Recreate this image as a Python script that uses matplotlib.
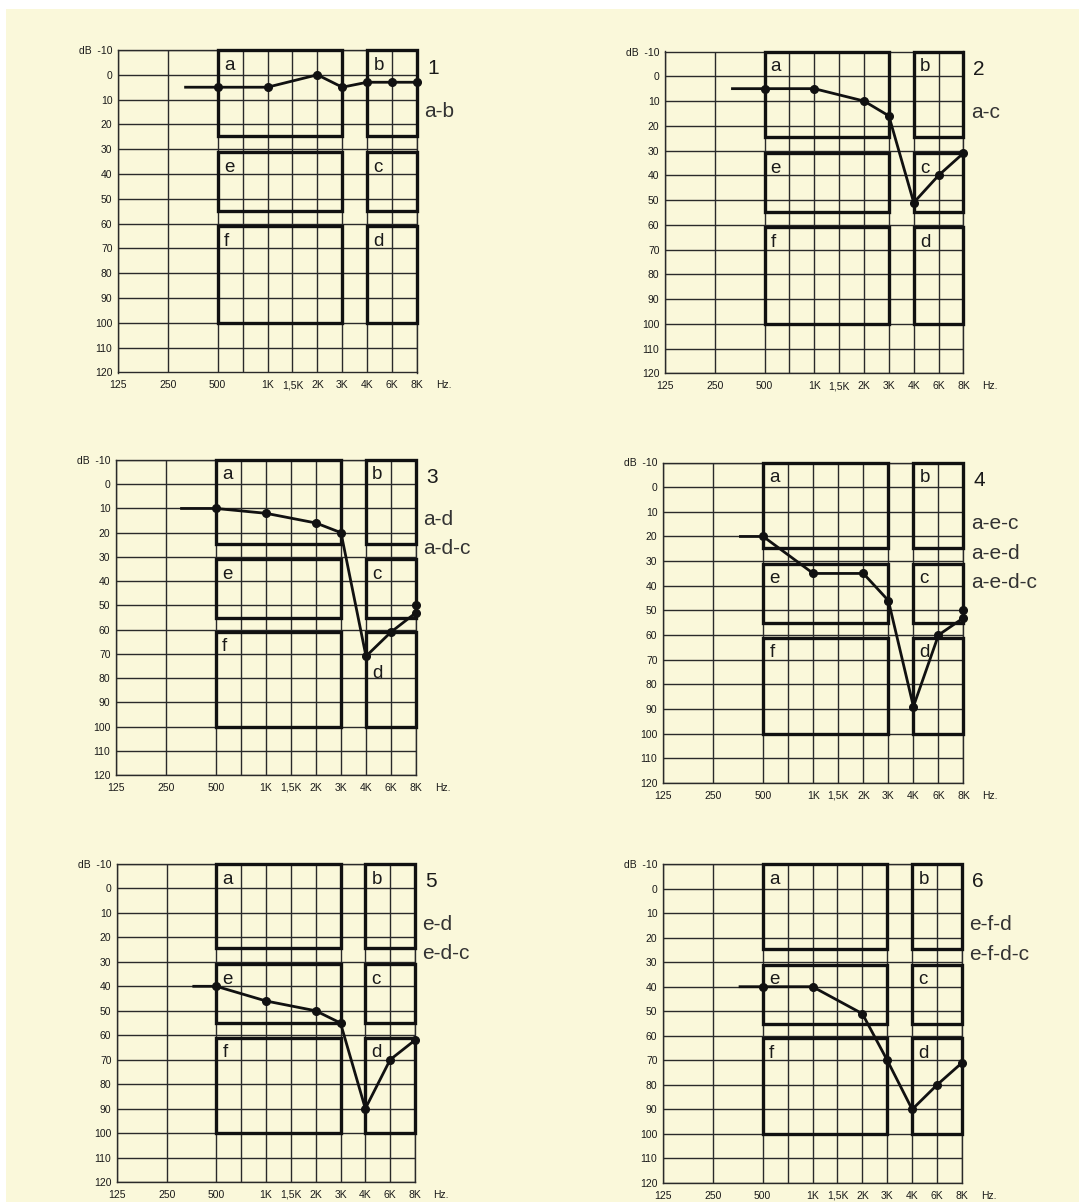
import numpy as np
import matplotlib
matplotlib.use('Agg')
import matplotlib.pyplot as plt
from matplotlib.patches import Rectangle

plt.rcParams['font.family'] = ['Liberation Sans', 'DejaVu Sans']

# ---------------- data ----------------
freq_keys = ['125', '250', '500', '750', '1K', '1,5K', '2K', '3K', '4K', '6K', '8K']
freq_pos = [0, 2, 4, 5, 6, 7, 8, 9, 10, 11, 12]
freq_tick_labels = ['125', '250', '500', '', '1K', '1,5K', '2K', '3K', '4K', '6K', '8K']
db_ticks = list(range(-10, 121, 10))
db_tick_labels = ['dB  -10'] + [str(v) for v in range(0, 121, 10)]

zone_names = ['a', 'b', 'e', 'c', 'f', 'd']
zone_freq_lo = ['500', '4K', '500', '4K', '500', '4K']
zone_freq_hi = ['3K', '8K', '3K', '8K', '3K', '8K']
zone_db_top = [-10, -10, 31, 31, 61, 61]
zone_db_bottom = [24.5, 24.5, 55, 55, 100, 100]

panel_numbers = ['1', '2', '3', '4', '5', '6']

curve1_freq = ['500', '1K', '2K', '3K', '4K', '6K', '8K']
curve1_db = [5, 5, 0, 5, 3, 3, 3]
curve2_freq = ['500', '1K', '2K', '3K', '4K', '6K', '8K']
curve2_db = [5, 5, 10, 16, 51, 40, 31]
curve3_freq = ['500', '1K', '2K', '3K', '4K', '6K', '8K', '8K']
curve3_db = [10, 12, 16, 20, 71, 61, 53, 50]
curve4_freq = ['500', '1K', '2K', '3K', '4K', '6K', '8K', '8K']
curve4_db = [20, 35, 35, 46, 89, 60, 53, 50]
curve5_freq = ['500', '1K', '2K', '3K', '4K', '6K', '8K']
curve5_db = [40, 46, 50, 55, 90, 70, 62]
curve6_freq = ['500', '1K', '2K', '3K', '4K', '6K', '8K']
curve6_db = [40, 40, 51, 70, 90, 80, 71]

lead_in_hz = [320, 320, 310, 365, 365, 365]

labels1 = ['a-b']
labels2 = ['a-c']
labels3 = ['a-d', 'a-d-c']
labels4 = ['a-e-c', 'a-e-d', 'a-e-d-c']
labels5 = ['e-d', 'e-d-c']
labels6 = ['e-f-d', 'e-f-d-c']

curves_freq = [curve1_freq, curve2_freq, curve3_freq, curve4_freq, curve5_freq, curve6_freq]
curves_db = [curve1_db, curve2_db, curve3_db, curve4_db, curve5_db, curve6_db]
side_labels = [labels1, labels2, labels3, labels4, labels5, labels6]

# letter baseline overrides (panel index, zone) -> dB
letter_override = {(2, 'd'): 80}

# ---------------- layout ----------------
W, H = 1079, 1202
# left, right, top, bottom in pixels
panel_px = [
    (118, 417, 50, 372.5),
    (665, 963.5, 51.5, 373.5),
    (116, 416, 460, 775),
    (663, 963.5, 462.5, 783),
    (117, 415, 864, 1182),
    (663, 962, 864, 1183),
]

bg = '#FAF8DA'
ink = '#1a1a1a'
grid_c = '#2a2a2a'

fig = plt.figure(figsize=(W / 100, H / 100), dpi=100, facecolor=bg)
# white scan margins (top and left)
fig.patches.append(Rectangle((0, 1 - 9 / H), 1, 9 / H, transform=fig.transFigure,
                             facecolor='white', edgecolor='none', zorder=-100))
fig.patches.append(Rectangle((0, 0), 6 / W, 1, transform=fig.transFigure,
                             facecolor='white', edgecolor='none', zorder=-100))

pos_of = dict(zip(freq_keys, freq_pos))


def hz_to_pos(f):
    return 2 + 2 * np.log2(f / 250.0)


for i, (l, r, t, b) in enumerate(panel_px):
    ax = fig.add_axes([l / W, 1 - b / H, (r - l) / W, (b - t) / H])
    ax.set_facecolor(bg)
    ax.set_xlim(0, 12)
    ax.set_ylim(120, -10)
    ax.set_xticks(freq_pos)
    ax.set_xticklabels([])
    ax.set_yticks(db_ticks)
    ax.set_yticklabels(db_tick_labels, fontsize=7.5, color=ink)
    ax.tick_params(length=0, pad=4)
    ax.grid(True, color=grid_c, lw=1.0)
    ax.set_axisbelow(True)
    for s in ax.spines.values():
        s.set_color(grid_c)
        s.set_linewidth(1.0)

    # frequency labels along the bottom (common baseline)
    for p, lab in zip(freq_pos, freq_tick_labels):
        ax.annotate(lab, xy=(p, 0), xycoords=('data', 'axes fraction'),
                    xytext=(0, -11.5), textcoords='offset points', va='baseline',
                    ha='center', fontsize=7.5, color=ink, annotation_clip=False)
    ax.annotate('Hz.', xy=(12.75, 0), xycoords=('data', 'axes fraction'),
                xytext=(0, -11.5), textcoords='offset points', va='baseline',
                ha='left', fontsize=7.5, color=ink, annotation_clip=False)

    # zones
    for name, lo, hi, top, bot in zip(zone_names, zone_freq_lo, zone_freq_hi,
                                      zone_db_top, zone_db_bottom):
        x0, x1 = pos_of[lo], pos_of[hi]
        ax.add_patch(Rectangle((x0, top), x1 - x0, bot - top, fill=False,
                               ec='#111111', lw=2.4, zorder=3, clip_on=False))
        ybase = letter_override.get((i, name), top + 8)
        ax.text(x0 + 0.25, ybase, name, fontsize=13.5, color=ink,
                va='baseline', ha='left', zorder=4)

    # curve
    fx = [pos_of[f] for f in curves_freq[i]]
    dy = curves_db[i]
    xs = [hz_to_pos(lead_in_hz[i])] + fx
    ys = [dy[0]] + dy
    ax.plot(xs, ys, '-', color='#111111', lw=2.0, zorder=5, clip_on=False,
            solid_joinstyle='round')
    ax.plot(fx, dy, 'o', color='#111111', ms=5.5, zorder=6, clip_on=False)

    # panel number and side labels
    ax.text(12.4, -0.5, panel_numbers[i], fontsize=15, color=ink,
            va='baseline', ha='left', clip_on=False)
    for k, lab in enumerate(side_labels[i]):
        ax.text(12.3, 17 + 12 * k, lab, fontsize=15, color='#333333',
                va='baseline', ha='left', clip_on=False)

fig.savefig('out.png', dpi=100, facecolor=bg)
